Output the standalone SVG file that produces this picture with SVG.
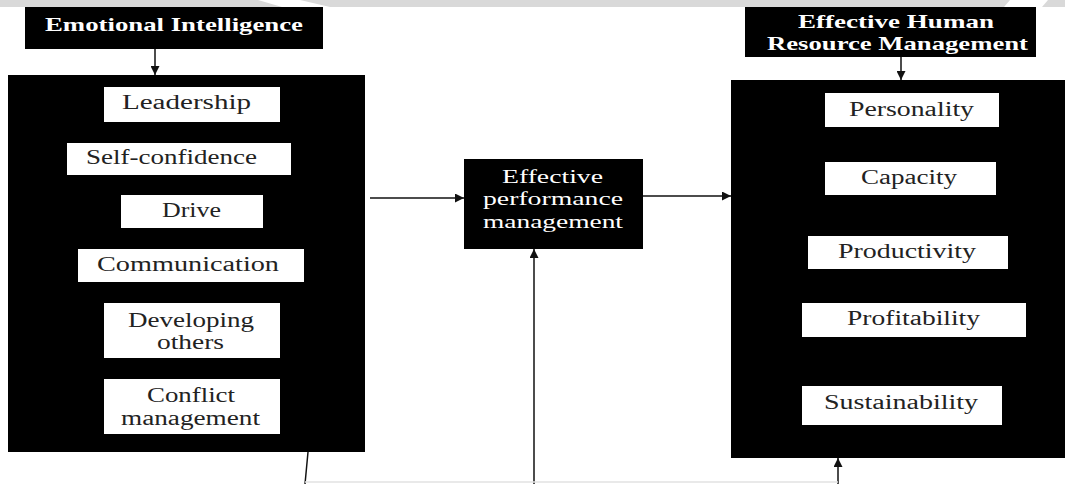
<svg xmlns="http://www.w3.org/2000/svg" width="1065" height="484" viewBox="0 0 1065 484">
<defs>
<marker id="ah" viewBox="0 0 10 10" refX="10" refY="5" markerWidth="9" markerHeight="9" markerUnits="userSpaceOnUse" orient="auto">
<path d="M0,0 L10,5 L0,10 z" fill="#111"/>
</marker>
</defs>
<style>
.blk{fill:#000}
.wb{fill:#fff}
.lbl{font-family:"Liberation Serif","Times New Roman",serif;font-size:20px;fill:#222}
.ttl{font-family:"Liberation Serif","Times New Roman",serif;font-size:19px;font-weight:bold;fill:#fff}
.wt{font-family:"Liberation Serif","Times New Roman",serif;font-size:19px;fill:#fff}
.ln{stroke:#111;stroke-width:1.5;fill:none}
.fl{stroke:#e2e2e2;stroke-width:1.5;fill:none}
</style>
<rect width="1065" height="484" fill="#fff"/>
<g id="band">
<rect x="0" y="0" width="1065" height="7" fill="#d9d9d9"/>
<polygon points="258,0 300,0 330,7 282,7" fill="#fff"/>
<polygon points="1010,0 1048,0 1042,7 1004,7" fill="#fff"/>
</g>
<g id="connectors">
<line class="ln" x1="155" y1="49" x2="155" y2="75" marker-end="url(#ah)"/>
<line class="ln" x1="901" y1="57" x2="901" y2="80" marker-end="url(#ah)"/>
<line class="ln" x1="370" y1="198" x2="464" y2="198" marker-end="url(#ah)"/>
<line class="ln" x1="643" y1="196" x2="731" y2="196" marker-end="url(#ah)"/>
<line class="ln" x1="534" y1="484" x2="534" y2="249" marker-end="url(#ah)"/>
<line class="ln" x1="838" y1="484" x2="838" y2="458" marker-end="url(#ah)"/>
<line class="ln" x1="308" y1="452" x2="305" y2="484"/>
<line class="fl" x1="305" y1="482" x2="838" y2="482"/>
</g>
<g id="emotional-intelligence">
<rect class="blk" x="25" y="7" width="298" height="42"/>
<text class="ttl" x="45" y="31" textLength="258" lengthAdjust="spacingAndGlyphs">Emotional Intelligence</text>
</g>
<g id="ei-panel">
<rect class="blk" x="8" y="75" width="357" height="377"/>
</g>
<g id="leadership">
<rect class="wb" x="104" y="87" width="176" height="35"/>
<text class="lbl" x="122" y="109" textLength="129" lengthAdjust="spacingAndGlyphs">Leadership</text>
</g>
<g id="self-confidence">
<rect class="wb" x="67" y="143" width="224" height="32"/>
<text class="lbl" x="86" y="164" textLength="171" lengthAdjust="spacingAndGlyphs">Self-confidence</text>
</g>
<g id="drive">
<rect class="wb" x="121" y="195" width="142" height="33"/>
<text class="lbl" x="162" y="217" textLength="59" lengthAdjust="spacingAndGlyphs">Drive</text>
</g>
<g id="communication">
<rect class="wb" x="78" y="249" width="226" height="33"/>
<text class="lbl" x="97" y="271" textLength="182" lengthAdjust="spacingAndGlyphs">Communication</text>
</g>
<g id="developing-others">
<rect class="wb" x="104" y="303" width="176" height="55"/>
<text class="lbl" x="128" y="327" textLength="126" lengthAdjust="spacingAndGlyphs">Developing</text>
<text class="lbl" x="157" y="349" textLength="67" lengthAdjust="spacingAndGlyphs">others</text>
</g>
<g id="conflict-management">
<rect class="wb" x="104" y="379" width="176" height="55"/>
<text class="lbl" x="147" y="402" textLength="88" lengthAdjust="spacingAndGlyphs">Conflict</text>
<text class="lbl" x="121" y="425" textLength="139" lengthAdjust="spacingAndGlyphs">management</text>
</g>
<g id="effective-performance-management">
<rect class="blk" x="464" y="159" width="179" height="90"/>
<text class="wt" x="502" y="183" textLength="101" lengthAdjust="spacingAndGlyphs">Effective</text>
<text class="wt" x="483" y="205" textLength="140" lengthAdjust="spacingAndGlyphs">performance</text>
<text class="wt" x="483" y="228" textLength="140" lengthAdjust="spacingAndGlyphs">management</text>
</g>
<g id="effective-hrm">
<rect class="blk" x="745" y="7" width="291" height="50"/>
<text class="ttl" x="798" y="28" textLength="196" lengthAdjust="spacingAndGlyphs">Effective Human</text>
<text class="ttl" x="767" y="50" textLength="261" lengthAdjust="spacingAndGlyphs">Resource Management</text>
</g>
<g id="hrm-panel">
<rect class="blk" x="731" y="80" width="334" height="378"/>
</g>
<g id="personality">
<rect class="wb" x="825" y="93" width="174" height="34"/>
<text class="lbl" x="849" y="116" textLength="125" lengthAdjust="spacingAndGlyphs">Personality</text>
</g>
<g id="capacity">
<rect class="wb" x="825" y="162" width="171" height="33"/>
<text class="lbl" x="861" y="184" textLength="96" lengthAdjust="spacingAndGlyphs">Capacity</text>
</g>
<g id="productivity">
<rect class="wb" x="808" y="236" width="200" height="33"/>
<text class="lbl" x="838" y="258" textLength="138" lengthAdjust="spacingAndGlyphs">Productivity</text>
</g>
<g id="profitability">
<rect class="wb" x="802" y="303" width="224" height="34"/>
<text class="lbl" x="847" y="325" textLength="133" lengthAdjust="spacingAndGlyphs">Profitability</text>
</g>
<g id="sustainability">
<rect class="wb" x="802" y="386" width="200" height="39"/>
<text class="lbl" x="824" y="409" textLength="154" lengthAdjust="spacingAndGlyphs">Sustainability</text>
</g>
</svg>
